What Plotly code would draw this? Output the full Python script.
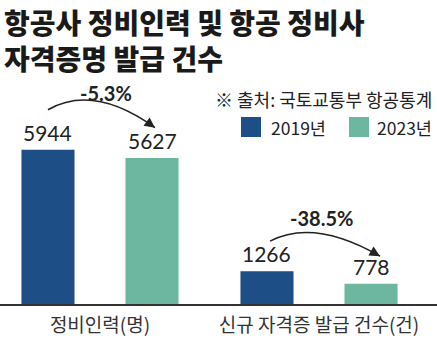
import plotly.graph_objects as go

# Data
categories = ["정비인력(명)", "신규 자격증 발급 건수(건)"]
series_names = ["2019년", "2023년"]
values_2019 = [5944, 1266]
values_2023 = [5627, 778]
change_labels = ["-5.3%", "-38.5%"]

title_lines = ["항공사 정비인력 및 항공 정비사", "자격증명 발급 건수"]
source_text = "※ 출처: 국토교통부 항공통계"

colors = ["#1d4e85", "#6db6a0"]

W, H = 437, 344
MT, MB = 60, 40
PLOT_H = H - MT - MB
BASE_PX = H - MB
Y_MAX = 9400
X_RANGE = [-0.4566, 1.5388]
BARGAP = 0.05
OFFSET = (1 - BARGAP) / 4  # distance from group centre to each bar centre

KR = "Noto Sans CJK KR"
NUM = "Lato"


def py(px):
    """Pixel row (from top of page) -> paper y."""
    return (BASE_PX - px) / PLOT_H


def px_x(px):
    return px / W


fig = go.Figure()
for name, vals, col in zip(series_names, [values_2019, values_2023], colors):
    fig.add_trace(go.Bar(
        x=list(range(len(categories))), y=vals, name=name,
        marker=dict(color=col, line=dict(width=0)),
        showlegend=False, hoverinfo="skip",
    ))

annotations = []
shapes = []

# Title (two lines)
annotations.append(dict(
    text="<br>".join(title_lines), xref="paper", yref="paper",
    x=px_x(2), y=py(0), xanchor="left", yanchor="top", align="left",
    showarrow=False,
    font=dict(family=KR, size=28, color="#1a1a1a", weight=900),
))

# Source note
annotations.append(dict(
    text=source_text, xref="paper", yref="paper", x=px_x(434), y=py(98.5),
    xanchor="right", yanchor="middle", showarrow=False,
    font=dict(family=KR, size=18, color="#222222"),
))

# Legend: swatches + labels
legend_pos = [(241, 269), (349, 375)]
for (sx, tx), name, col in zip(legend_pos, series_names, colors):
    shapes.append(dict(
        type="rect", xref="paper", yref="paper",
        x0=px_x(sx), x1=px_x(sx + 20), y0=py(137), y1=py(117),
        fillcolor=col, line=dict(width=0),
    ))
    annotations.append(dict(
        text=name, xref="paper", yref="paper", x=px_x(tx), y=py(127),
        xanchor="left", yanchor="middle", showarrow=False,
        font=dict(family=KR, size=17.5, color="#222222"),
    ))

# Value labels above each bar
for gi in range(len(categories)):
    for si, vals in enumerate([values_2019, values_2023]):
        annotations.append(dict(
            text=f"{vals[gi]}", x=gi + (2 * si - 1) * OFFSET, y=vals[gi],
            xref="x", yref="y", xanchor="center", yanchor="bottom",
            yshift=3, showarrow=False,
            font=dict(family=NUM, size=21, color="#222222"),
        ))

# Curved change arrows, anchored at each group's 2019 bar top
arc_geom = [
    # start, control, end (pixel offsets, y up), label offset
    ((-52, 40), (-6, 66), (55, 22), (6, 57)),
    ((-49, 30), (-5, 53), (61, 15), (2, 53)),
]
for gi, (p0, c, p1, lab) in enumerate(arc_geom):
    shapes.append(dict(
        type="path", xref="x", yref="y",
        xsizemode="pixel", ysizemode="pixel",
        xanchor=gi, yanchor=values_2019[gi],
        path=f"M {p0[0]},{p0[1]} Q {c[0]},{c[1]} {p1[0]},{p1[1]}",
        line=dict(color="#222222", width=1.6),
    ))
    # arrowhead along the end tangent
    dx, dy = p1[0] - c[0], p1[1] - c[1]
    norm = (dx * dx + dy * dy) ** 0.5
    annotations.append(dict(
        x=gi, y=values_2019[gi], xref="x", yref="y",
        xshift=p1[0], yshift=p1[1], text="",
        showarrow=True, arrowhead=2, arrowsize=1.3, arrowwidth=1.6,
        arrowcolor="#222222",
        ax=-dx / norm * 9, ay=dy / norm * 9,
    ))
    annotations.append(dict(
        text=change_labels[gi], x=gi, y=values_2019[gi], xref="x", yref="y",
        xshift=lab[0], yshift=lab[1], xanchor="center", yanchor="middle",
        showarrow=False,
        font=dict(family=NUM, size=20, color="#222222", weight="bold"),
    ))

fig.update_layout(
    width=W, height=H,
    margin=dict(l=0, r=0, t=MT, b=MB, pad=0),
    paper_bgcolor="white", plot_bgcolor="white",
    barmode="group", bargap=BARGAP, bargroupgap=0.49,
    annotations=annotations, shapes=shapes,
    showlegend=False,
    xaxis=dict(
        range=X_RANGE, tickvals=list(range(len(categories))), ticktext=categories,
        showline=True, linecolor="#333333", linewidth=1.5,
        showgrid=False, zeroline=False, ticks="",
        tickfont=dict(family=KR, size=19, color="#333333"),
        ticklabelstandoff=3, fixedrange=True,
    ),
    yaxis=dict(range=[0, Y_MAX], visible=False, showgrid=False, zeroline=False,
               fixedrange=True),
)

fig.write_html("out.html", config={"displayModeBar": False})
